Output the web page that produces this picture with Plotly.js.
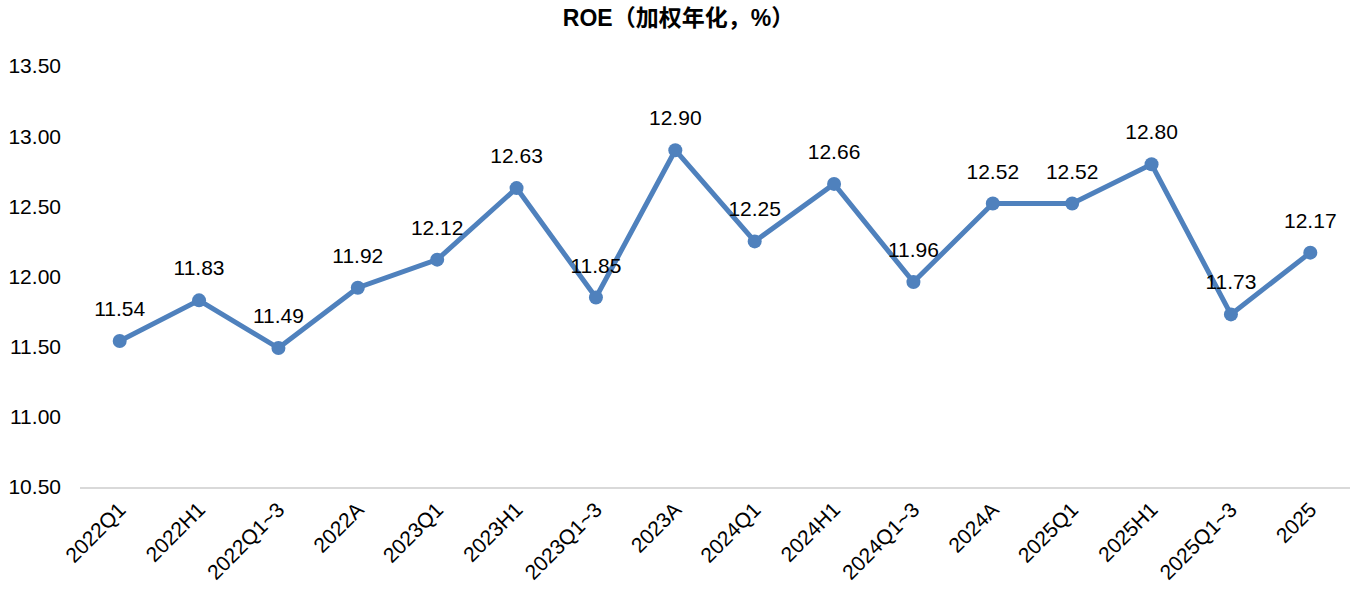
<!DOCTYPE html>
<html><head><meta charset="utf-8">
<script src="https://cdn.plot.ly/plotly-3.0.1.min.js"></script>
<style>html,body{margin:0;padding:0;background:#fff;}#chart{width:1357px;height:590px;}</style>
</head><body><div id="chart"></div>
<script>
const categories = ["2022Q1","2022H1","2022Q1~3","2022A","2023Q1","2023H1","2023Q1~3","2023A","2024Q1","2024H1","2024Q1~3","2024A","2025Q1","2025H1","2025Q1~3","2025"];
const roe = [11.54,11.83,11.49,11.92,12.12,12.63,11.85,12.90,12.25,12.66,11.96,12.52,12.52,12.80,11.73,12.17];
const yTicks = [10.5,11.0,11.5,12.0,12.5,13.0,13.5];

const font = 'Liberation Sans, Arial, sans-serif';
const lineTrace = {
  x: categories, y: roe, type: 'scatter', mode: 'lines+markers',
  line: {color: '#4F81BD', width: 5},
  marker: {color: '#4F81BD', size: 14},
  cliponaxis: false, hoverinfo: 'skip'
};
const labelTrace = {
  x: categories, y: roe, type: 'scatter', mode: 'markers+text',
  text: roe.map(v => v.toFixed(2)), textposition: 'top center',
  textfont: {family: font, size: 21, color: '#000'},
  marker: {color: 'rgba(0,0,0,0)', size: 30},
  cliponaxis: false, hoverinfo: 'skip'
};
const layout = {
  width: 1357, height: 590,
  margin: {l: 80, r: 7, t: 66, b: 103},
  paper_bgcolor: '#fff', plot_bgcolor: '#fff',
  showlegend: false,
  title: {text: '<b>ROE（加权年化，%）</b>', x: 0.5, xanchor: 'center', y: 0.969, yanchor: 'middle',
    font: {family: 'Liberation Sans, Arial, Noto Sans CJK SC, sans-serif', size: 23, color: '#000'}},
  xaxis: {type: 'category', tickangle: -45, showgrid: false, showline: true, linecolor: '#D9D9D9', linewidth: 2,
    ticks: '', zeroline: false, range: [-0.5, categories.length - 0.5],
    tickfont: {family: font, size: 21, color: '#000'}},
  yaxis: {range: [10.5, 13.5], tickvals: yTicks, ticktext: yTicks.map(v => v.toFixed(2)),
    showgrid: false, zeroline: false, showline: false, ticks: '', ticklabelstandoff: 18,
    tickfont: {family: font, size: 21, color: '#000'}}
};
Plotly.newPlot('chart', [lineTrace, labelTrace], layout, {displayModeBar: false, staticPlot: true});
</script></body></html>
